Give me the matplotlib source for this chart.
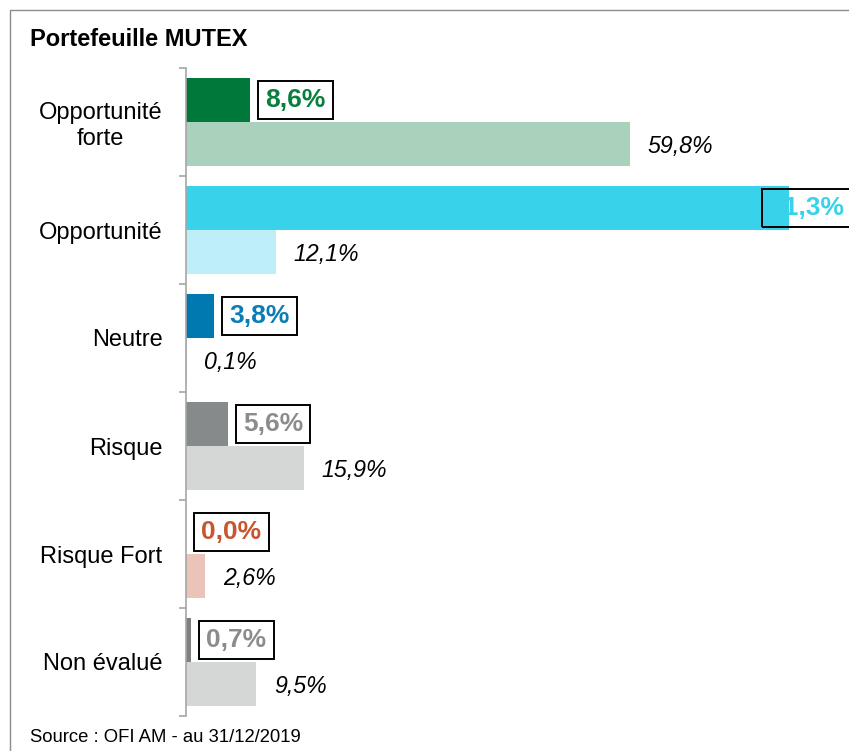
#!/usr/bin/env python3
"""Portefeuille MUTEX: ESG opportunity / risk split vs. universe."""

import matplotlib
matplotlib.use('Agg')
import matplotlib.pyplot as plt
from matplotlib.patches import Rectangle

plt.rcParams['font.family'] = ['Liberation Sans', 'DejaVu Sans']

CATEGORIES = ['Opportunité\nforte', 'Opportunité', 'Neutre', 'Risque',
              'Risque Fort', 'Non évalué']
PORTFOLIO = [8.6, 81.3, 3.8, 5.6, 0.0, 0.7]
UNIVERSE = [59.8, 12.1, 0.1, 15.9, 2.6, 9.5]
DARK = ['#00783A', '#38D3EB', '#0078B0', '#878A8A', '#C8552D', '#7F7F7F']
LIGHT = ['#A9D1BC', '#BEEFF8', '#A9D3EA', '#D5D6D6', '#EBC3B9', '#D5D6D6']
LABEL_COL = ['#0A7E3E', '#38D3EB', '#0B7DB5', '#8C8C8C', '#C8552D', '#8C8C8C']

W, H = 849, 751
FIG = plt.figure(figsize=(W / 100, H / 100), dpi=100)
# axes box in pixels: x 186..849, y 68..716
ax = FIG.add_axes([186 / W, 1 - 716 / H, (W - 186) / W, (716 - 68) / H])
XMAX = (W - 186) / 7.42


def fmt(v):
    return f'{v:.1f}%'.replace('.', ',')


ypos = list(range(len(CATEGORIES)))
bh = 0.405
ax.barh([y - bh / 2 for y in ypos], PORTFOLIO, height=bh, color=DARK,
        zorder=2)
ax.barh([y + bh / 2 for y in ypos], UNIVERSE, height=bh, color=LIGHT,
        zorder=2)

for y, v, c in zip(ypos, PORTFOLIO, LABEL_COL):
    if v > 75:
        # no room right of the bar: pull the label back inside the plot
        xy, off = (XMAX, y - bh / 2), (-57.5, 0)
    else:
        xy, off = (v, y - bh / 2), (11, 0)
    ax.annotate(fmt(v), xy=xy, xytext=off, textcoords='offset points',
                ha='left', va='center', fontsize=19, fontweight='bold',
                color=c, zorder=3, annotation_clip=False,
                bbox=dict(boxstyle='square,pad=0.27', fc='none', ec='black',
                          lw=1.4))

for y, v in zip(ypos, UNIVERSE):
    ax.annotate(fmt(v), xy=(v, y + bh / 2 + 0.02), xytext=(12.5, 0),
                textcoords='offset points', ha='left', va='center',
                fontsize=16.7, fontstyle='italic', color='black')

ax.set_xlim(0, XMAX)
ax.set_ylim(len(CATEGORIES) - 0.5, -0.5)
ax.set_xticks([])
ax.set_yticks(ypos)
ax.set_yticklabels(CATEGORIES, fontsize=17, multialignment='center')
ax.set_yticks([y - 0.5 for y in ypos] + [len(ypos) - 0.5], minor=True)
ax.tick_params(axis='y', which='major', length=0, pad=17)
ax.tick_params(axis='y', which='minor', length=5, width=1.2,
               color='#A6A6A6')
for s in ['top', 'right', 'bottom']:
    ax.spines[s].set_visible(False)
ax.spines['left'].set_color('#A6A6A6')
ax.spines['left'].set_linewidth(1.2)
ax.patch.set_alpha(0)

# outer frame (left and top edges visible)
FIG.add_artist(Rectangle((10 / W, -0.05), 1.1, 1 - 10 / H + 0.05,
                         transform=FIG.transFigure, fill=False,
                         ec='#8C8C8C', lw=1.0))

FIG.text(30 / W, 1 - 40 / H, 'Portefeuille MUTEX', fontsize=17,
         fontweight='bold', ha='left', va='center')
FIG.text(30 / W, 1 - 737 / H, 'Source : OFI AM - au 31/12/2019',
         fontsize=13.3, ha='left', va='center')

FIG.savefig('out.png', dpi=100)
